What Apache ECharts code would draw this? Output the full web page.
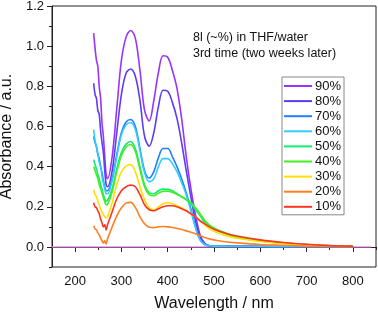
<!DOCTYPE html>
<html>
<head>
<meta charset="utf-8">
<script src="https://cdn.jsdelivr.net/npm/echarts@6/dist/echarts.min.js"></script>
<style>
  html, body { margin: 0; padding: 0; background: #fff; }
  #chart { width: 378px; height: 315px; }
</style>
</head>
<body>
<div id="chart"></div>
<script>
// wavelength grid (nm) shared by all spectra
const wl = [240, 243, 246, 249, 252, 255, 258, 261, 264, 267,
  270, 280, 290, 300, 310, 320, 330, 340, 350, 360,
  370, 380, 390, 400, 410, 420, 430, 440, 450, 460,
  470, 480, 490, 500, 520, 550, 600, 650, 700, 750,
  800];

const labels = ["90%", "80%", "70%", "60%", "50%", "40%", "30%", "20%", "10%"];
const colors = ["#9933FF", "#5B3CF5", "#1F7FFF", "#33CCFF", "#10EC70", "#44EE22", "#FFE000", "#FF8020", "#FF3322"];

const a90 = [1.065, 0.99, 0.93, 0.90, 0.80, 0.74, 0.62, 0.55, 0.45, 0.36,
  0.34, 0.45, 0.69, 0.93, 1.045, 1.078, 1.04, 0.88, 0.68, 0.628,
  0.73, 0.87, 0.952, 0.945, 0.88, 0.79, 0.64, 0.45, 0.29, 0.16,
  0.06, 0.018, 0.006, 0.004, 0.003, 0.003, 0.003, 0.002, 0.002, 0.001,
  0.001];
const a80 = [0.815, 0.76, 0.74, 0.68, 0.66, 0.58, 0.52, 0.47, 0.38, 0.31,
  0.30, 0.38, 0.57, 0.76, 0.865, 0.886, 0.85, 0.73, 0.55, 0.502,
  0.57, 0.70, 0.78, 0.775, 0.72, 0.64, 0.52, 0.38, 0.25, 0.13,
  0.05, 0.015, 0.006, 0.004, 0.003, 0.003, 0.002, 0.002, 0.001, 0.001,
  0.001];
const a70 = [0.55, 0.52, 0.50, 0.46, 0.44, 0.40, 0.37, 0.33, 0.30, 0.28,
  0.28, 0.34, 0.46, 0.57, 0.622, 0.635, 0.60, 0.49, 0.38, 0.343,
  0.375, 0.445, 0.49, 0.49, 0.45, 0.40, 0.34, 0.27, 0.19, 0.10,
  0.035, 0.012, 0.005, 0.004, 0.003, 0.003, 0.002, 0.002, 0.001, 0.001,
  0.001];
const a60 = [0.585, 0.53, 0.50, 0.47, 0.42, 0.40, 0.35, 0.32, 0.29, 0.265,
  0.265, 0.33, 0.45, 0.56, 0.607, 0.62, 0.585, 0.48, 0.37, 0.325,
  0.34, 0.40, 0.44, 0.44, 0.415, 0.375, 0.32, 0.26, 0.18, 0.095,
  0.035, 0.012, 0.006, 0.004, 0.004, 0.003, 0.003, 0.002, 0.002, 0.002,
  0.002];
const a50 = [0.435, 0.41, 0.39, 0.36, 0.34, 0.31, 0.29, 0.26, 0.24, 0.228,
  0.23, 0.29, 0.39, 0.47, 0.512, 0.525, 0.49, 0.40, 0.31, 0.27,
  0.265, 0.28, 0.288, 0.287, 0.28, 0.265, 0.25, 0.235, 0.215, 0.185,
  0.155, 0.122, 0.102, 0.09, 0.07, 0.048, 0.03, 0.02, 0.012, 0.007,
  0.004];
const a40 = [0.40, 0.38, 0.36, 0.34, 0.31, 0.29, 0.27, 0.245, 0.225, 0.21,
  0.212, 0.275, 0.375, 0.455, 0.498, 0.51, 0.475, 0.385, 0.30, 0.26,
  0.255, 0.268, 0.277, 0.278, 0.272, 0.262, 0.25, 0.238, 0.222, 0.195,
  0.165, 0.132, 0.11, 0.095, 0.074, 0.05, 0.03, 0.019, 0.011, 0.006,
  0.003];
const a30 = [0.285, 0.26, 0.25, 0.23, 0.21, 0.19, 0.175, 0.16, 0.15, 0.145,
  0.15, 0.22, 0.31, 0.375, 0.403, 0.41, 0.375, 0.30, 0.235, 0.195,
  0.185, 0.20, 0.215, 0.22, 0.215, 0.205, 0.195, 0.18, 0.165, 0.15,
  0.13, 0.11, 0.09, 0.078, 0.06, 0.043, 0.027, 0.017, 0.01, 0.006,
  0.003];
const a20 = [0.105, 0.09, 0.085, 0.07, 0.06, 0.045, 0.03, 0.02, 0.03, 0.015,
  0.04, 0.10, 0.155, 0.195, 0.218, 0.222, 0.197, 0.15, 0.115, 0.098,
  0.096, 0.10, 0.102, 0.10, 0.097, 0.092, 0.087, 0.08, 0.073, 0.066,
  0.056, 0.047, 0.04, 0.035, 0.027, 0.02, 0.012, 0.008, 0.004, 0.002,
  0.001];
const a10 = [0.22, 0.20, 0.195, 0.18, 0.165, 0.14, 0.12, 0.10, 0.11, 0.085,
  0.11, 0.175, 0.24, 0.28, 0.30, 0.308, 0.30, 0.26, 0.21, 0.185,
  0.18, 0.19, 0.20, 0.205, 0.205, 0.20, 0.19, 0.18, 0.165, 0.15,
  0.13, 0.115, 0.1, 0.088, 0.072, 0.054, 0.035, 0.022, 0.013, 0.007,
  0.004];
const spectra = [a90, a80, a70, a60, a50, a40, a30, a20, a10];

// zero line
const baseX = [150, 840];
const baseY = [0, 0];

const yMajor = [0, 0.2, 0.4, 0.6, 0.8, 1.0, 1.2];
const xMajor = [200, 300, 400, 500, 600, 700, 800];

const font = "Liberation Sans, Arial, sans-serif";

let chart = echarts.init(document.getElementById("chart"));

let series = [{
  name: "base",
  type: "line",
  symbol: "none",
  silent: true,
  data: baseX.map((x, i) => [x, baseY[i]]),
  lineStyle: { color: "#F08CF0", width: 1.4 },
}];
spectra.forEach((arr, k) => {
  series.push({
    name: labels[k],
    type: "line",
    symbol: "none",
    smooth: 0.35,
    color: colors[k],
    lineStyle: { width: 1.6 },
    data: wl.map((w, i) => [w, arr[i]]),
  });
});

chart.setOption({
  animation: false,
  textStyle: { fontFamily: font },
  grid: {
    left: 52, right: 2, top: 6, bottom: 48,
    outerBoundsMode: "none",
    containLabel: false,
    show: true, borderColor: "#222", borderWidth: 1,
  },
  title: {
    text: "8l (~%) in THF/water\n3rd time (two weeks later)",
    left: 193, top: 30, padding: 0,
    textStyle: { fontFamily: font, fontSize: 12.5, fontWeight: "normal", color: "#111", lineHeight: 16 },
  },
  legend: {
    data: labels,
    orient: "vertical",
    left: 282, top: 77,
    padding: [2, 3, 1, 2],
    itemGap: 1.1,
    itemWidth: 28,
    itemHeight: 2,
    icon: "rect",
    backgroundColor: "#fff",
    borderColor: "#888",
    borderWidth: 1,
    borderRadius: 0,
    textStyle: { fontFamily: font, fontSize: 13, color: "#111", lineHeight: 14, padding: [0, 0, 0, -2] },
  },
  xAxis: [
    {
      type: "value", min: 150, max: 850,
      name: "Wavelength / nm", nameLocation: "middle", nameGap: 29,
      nameTextStyle: { fontFamily: font, fontSize: 16, color: "#111" },
      axisLine: { lineStyle: { color: "#222", width: 1 } },
      axisTick: { customValues: xMajor, length: 5, lineStyle: { color: "#222" } },
      axisLabel: { customValues: xMajor, margin: 8, fontSize: 13, color: "#111", fontFamily: font },
      splitLine: { show: false },
    },
    {
      type: "value", min: 150, max: 850, interval: 50, position: "bottom",
      axisLine: { show: false },
      axisTick: { length: 3, lineStyle: { color: "#222" } },
      axisLabel: { show: false },
      splitLine: { show: false },
    },
  ],
  yAxis: [
    {
      type: "value", min: -0.1, max: 1.2,
      name: "Absorbance / a.u.", nameLocation: "middle", nameGap: 28,
      nameTextStyle: { fontFamily: font, fontSize: 16, color: "#111" },
      axisLine: { show: true, lineStyle: { color: "#222", width: 1 } },
      axisTick: { show: true, customValues: yMajor, length: 5, lineStyle: { color: "#222" } },
      axisLabel: { customValues: yMajor, margin: 8, fontSize: 13, color: "#111", fontFamily: font,
        formatter: (v) => v.toFixed(1) },
      splitLine: { show: false },
    },
    {
      type: "value", min: -0.1, max: 1.2, interval: 0.1, position: "left",
      axisLine: { show: false },
      axisTick: { show: true, length: 3, lineStyle: { color: "#222" } },
      axisLabel: { show: false },
      splitLine: { show: false },
    },
  ],
  series: series,
});
</script>
</body>
</html>
